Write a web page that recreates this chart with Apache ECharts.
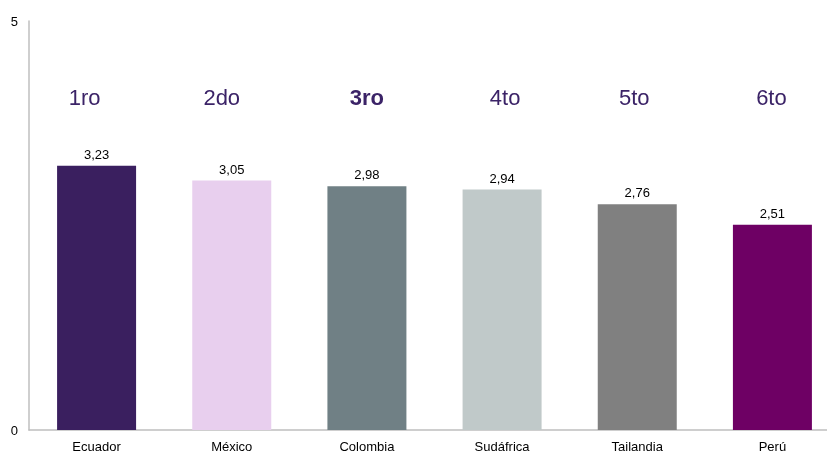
<!DOCTYPE html>
<html>
<head>
<meta charset="utf-8">
<script src="https://cdn.jsdelivr.net/npm/echarts@6/dist/echarts.min.js"></script>
<style>
  html, body { margin: 0; padding: 0; background: #fff; }
  #chart { width: 827px; height: 452px; }
</style>
</head>
<body>
<div id="chart"></div>
<script>
const countries = ['Ecuador', 'México', 'Colombia', 'Sudáfrica', 'Tailandia', 'Perú'];
const scores = [3.23, 3.05, 2.98, 2.94, 2.76, 2.51];
const ranks = ['1ro', '2do', '3ro', '4to', '5to', '6to'];
const barColors = ['#3a1f5f', '#e8cfee', '#708085', '#c0c9c9', '#808080', '#6e0064'];
const rankShift = [-12, -10, 0, 3, -3, -1]; // text boxes are not exactly centred in the original
const rankRow = 4.05; // height (in axis units) where rank labels sit
const highlighted = 'Colombia'; // bold rank label

const chart = echarts.init(document.getElementById('chart'));

chart.setOption({
    animation: false,
    textStyle: { fontFamily: 'Liberation Sans, Arial, sans-serif' },
    grid: { left: 29, width: 811, top: 21, bottom: 22, outerBoundsMode: 'none', containLabel: false },
    xAxis: {
        type: 'category',
        data: countries,
        axisLine: { lineStyle: { color: '#bfbfbf', width: 1.5 } },
        axisTick: { show: false },
        axisLabel: { color: '#000', fontSize: 13, margin: 11 }
    },
    yAxis: {
        type: 'value',
        min: 0,
        max: 5,
        interval: 5,
        splitLine: { show: false },
        axisLine: { show: true, lineStyle: { color: '#bfbfbf', width: 1.5 } },
        axisTick: { show: false },
        axisLabel: { color: '#000', fontSize: 13, margin: 11, verticalAlign: 'top', padding: [-5, 0, 0, 0] }
    },
    series: [
        {
            type: 'bar',
            barWidth: 79,
            data: scores.map((v, i) => ({ value: v, itemStyle: { color: barColors[i] } })),
            label: {
                show: true,
                position: 'top',
                color: '#000',
                fontSize: 13,
                distance: 4,
                formatter: p => p.value.toFixed(2).replace('.', ',')
            }
        },
        {
            type: 'scatter',
            symbolSize: 0,
            silent: true,
            itemStyle: { opacity: 1 },
            data: ranks.map((r, i) => ({
                value: [countries[i], rankRow],
                label: {
                    show: true,
                    position: 'inside',
                    offset: [rankShift[i], 0],
                    formatter: r,
                    color: '#3b2367',
                    fontSize: 22,
                    fontWeight: countries[i] === highlighted ? 'bold' : 'normal'
                }
            }))
        }
    ]
});
</script>
</body>
</html>
